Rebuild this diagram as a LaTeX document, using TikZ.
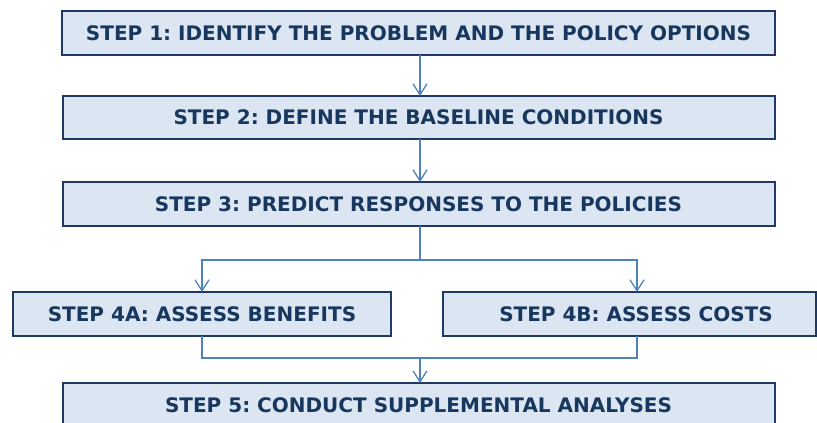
\documentclass[tikz,border=0pt]{standalone}
\usepackage{fontspec}
\setmainfont{DejaVu Sans}
\usetikzlibrary{arrows.meta}
\definecolor{boxfill}{HTML}{DCE6F2}
\definecolor{boxline}{HTML}{1F3864}
\definecolor{boxtext}{HTML}{17375E}
\definecolor{conn}{HTML}{4F81BD}
\frenchspacing
\begin{document}
\begin{tikzpicture}[x=1pt,y=-1pt,
  stepbox/.style={draw=boxline,line width=1.8pt,fill=boxfill,inner sep=0pt},
  steptext/.style={text=boxtext,font=\bfseries\fontsize{20}{22}\selectfont,inner sep=0pt},
  conline/.style={draw=conn,line width=1.5pt},
  conarrow/.style={conline,-{Straight Barb[length=11pt,width=14pt,line width=1.3pt]}}]
\useasboundingbox (0,0) rectangle (817,423);
\clip (0,0) rectangle (817,423);
% boxes
\path[stepbox] (62,11) rectangle (775,55);
\node[steptext] (s1) at (418.5,33) {STEP 1: IDENTIFY THE PROBLEM AND THE POLICY OPTIONS};
\path[stepbox] (63,96) rectangle (775,139);
\node[steptext] (s2) at (418.5,117.5) {STEP 2: DEFINE THE BASELINE CONDITIONS};
\path[stepbox] (63,182) rectangle (775,226);
\node[steptext] (s3) at (418.5,204) {STEP 3: PREDICT RESPONSES TO THE POLICIES};
\path[stepbox] (13,292) rectangle (391,336);
\node[steptext] (s4a) at (202,314) {STEP 4A: ASSESS BENEFITS};
\path[stepbox] (443,292) rectangle (816,336);
\node[steptext] (s4b) at (636,314) {STEP 4B: ASSESS COSTS};
\path[stepbox] (63,383) rectangle (775,428);
\node[steptext] (s5) at (418.5,405) {STEP 5: CONDUCT SUPPLEMENTAL ANALYSES};
% named anchor points
\coordinate (b1) at (420,55);
\coordinate (t2) at (420,96);
\coordinate (b2) at (420,139);
\coordinate (t3) at (420,182);
\coordinate (b3) at (420,226);
\coordinate (split) at (420,260);
\coordinate (sl) at (202,260);
\coordinate (sr) at (637,260);
\coordinate (t4a) at (202,292);
\coordinate (t4b) at (637,292);
\coordinate (b4a) at (202,336);
\coordinate (b4b) at (637,336);
\coordinate (ml) at (202,358);
\coordinate (mr) at (637,358);
\coordinate (merge) at (420,358);
\coordinate (t5) at (420,383);
% connectors
\draw[conarrow] (b1) -- (t2);
\draw[conarrow] (b2) -- (t3);
\draw[conline] (b3) -- (split);
\draw[conarrow] (split) -- (sl) -- (t4a);
\draw[conarrow] (split) -- (sr) -- (t4b);
\draw[conline] (b4a) -- (ml) -- (mr) -- (b4b);
\draw[conarrow] (merge) -- (t5);
\end{tikzpicture}
\end{document}
